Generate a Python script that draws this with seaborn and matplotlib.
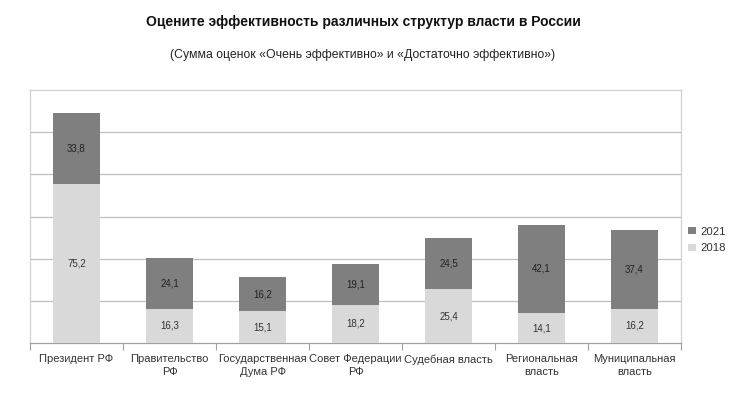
import matplotlib
matplotlib.use("Agg")
import matplotlib.pyplot as plt
import seaborn as sns
import pandas as pd
import numpy as np
from matplotlib.patches import Patch

categories = ["Президент РФ", "Правительство\nРФ", "Государственная\nДума РФ",
              "Совет Федерации\nРФ", "Судебная власть", "Региональная\nвласть",
              "Муниципальная\nвласть"]
v2018 = [75.2, 16.3, 15.1, 18.2, 25.4, 14.1, 16.2]
v2021 = [33.8, 24.1, 16.2, 19.1, 24.5, 42.1, 37.4]
labels2018 = ["75,2", "16,3", "15,1", "18,2", "25,4", "14,1", "16,2"]
labels2021 = ["33,8", "24,1", "16,2", "19,1", "24,5", "42,1", "37,4"]

sns.set_theme(style="white")
plt.rcParams['font.family'] = ['Liberation Sans', 'DejaVu Sans']

c2021 = "#7f7f7f"
c2018 = "#d9d9d9"

df = pd.DataFrame({"cat": categories, "y2018": v2018, "y2021": v2021})
df["total"] = df["y2018"] + df["y2021"]

fig = plt.figure(figsize=(7.3, 3.93), dpi=100)
ax = fig.add_axes([30/730, 50/393, 651/730, 253/393])

sns.barplot(data=df, x="cat", y="total", color=c2021, saturation=1, width=0.5,
            ax=ax, zorder=3, edgecolor="none")
sns.barplot(data=df, x="cat", y="y2018", color=c2018, saturation=1, width=0.5,
            ax=ax, zorder=3, edgecolor="none")

for i in range(len(categories)):
    ax.text(i, v2018[i] / 2, labels2018[i], ha="center", va="center",
            fontsize=7, color="#333333", zorder=4)
    ax.text(i, v2018[i] + v2021[i] / 2, labels2021[i], ha="center", va="center",
            fontsize=7, color="#222222", zorder=4)

ax.set_ylim(0, 120)
ax.set_xlim(-0.5, len(categories) - 0.5)
ax.set_yticks([20, 40, 60, 80, 100])
ax.set_yticklabels([])
ax.tick_params(axis="y", length=0)
ax.yaxis.grid(True, color="#bfbfbf", linewidth=0.9, zorder=0)
ax.set_axisbelow(True)
ax.set_xlabel("")
ax.set_ylabel("")
ax.tick_params(axis="x", which="major", length=0, pad=8, labelsize=8,
               labelcolor="#333333")
for t in ax.get_xticklabels():
    t.set_linespacing(1.35)
ax.set_xticks(np.arange(-0.5, len(categories)), minor=True)
ax.tick_params(axis="x", which="minor", length=5, width=0.8, color="#a0a0a0",
               direction="out", bottom=True)
for s in ["left", "top", "right"]:
    ax.spines[s].set_color("#d0d0d0")
    ax.spines[s].set_linewidth(0.9)
ax.spines["bottom"].set_color("#a0a0a0")
ax.spines["bottom"].set_linewidth(0.9)

handles = [Patch(facecolor=c2021, edgecolor="none", label="2021"),
           Patch(facecolor=c2018, edgecolor="none", label="2018")]
fig.legend(handles=handles, loc="center left", bbox_to_anchor=(685/730, 1 - 240/393),
           frameon=False, fontsize=8.2, handlelength=0.65, handleheight=0.65,
           handletextpad=0.4, labelspacing=0.6, labelcolor="#333333",
           borderaxespad=0, borderpad=0.3)

fig.text(363/730, 1 - 22/393, "Оцените эффективность различных структур власти в России",
         ha="center", va="center", fontsize=10, fontweight="bold", color="#111111")
fig.text(363/730, 1 - 55/393, "(Сумма оценок «Очень эффективно» и «Достаточно эффективно»)",
         ha="center", va="center", fontsize=8.8, color="#222222")

fig.savefig("out.png", dpi=100, facecolor="white")
